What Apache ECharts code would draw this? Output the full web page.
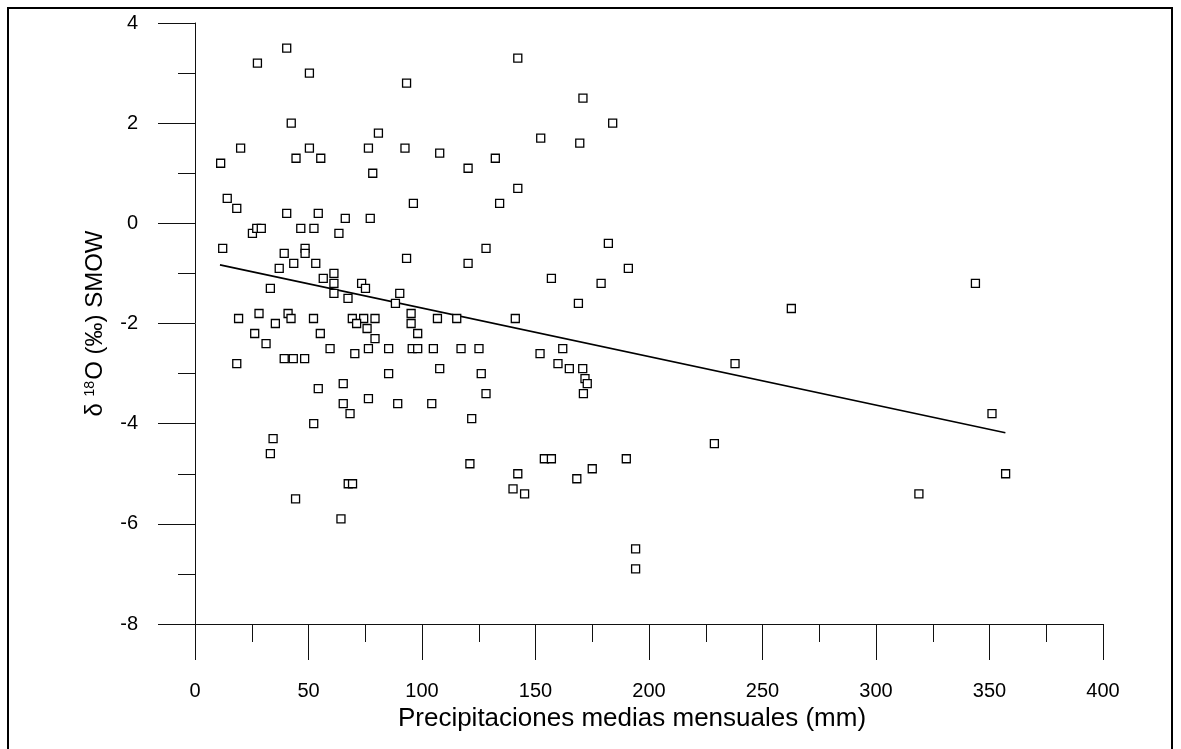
<!DOCTYPE html>
<html>
<head>
<meta charset="utf-8">
<script src="https://cdn.jsdelivr.net/npm/echarts@6/dist/echarts.min.js"></script>
<style>
  html, body { margin: 0; padding: 0; background: #fff; }
</style>
</head>
<body>
<div id="myChart" style="width: 1181px; height: 749px"></div>
<script>
// precipitación media mensual (mm) de cada estación/mes
const precip = [
  40.4, 27.5, 50.4, 93.2, 42.4, 80.8, 20.1, 50.4, 76.4, 92.5,
  107.8, 44.5, 55.4, 11.3, 78.3, 14.2, 96.2, 18.4, 40.4, 54.3,
  66.2, 77.2, 25.3, 27.2, 29.2, 46.6, 52.4, 63.4, 12.2, 48.5,
  48.5, 39.3, 93.2, 43.5, 53.2, 37.1, 61.2, 56.5, 61.2, 73.4,
  75.1, 33.2, 61.2, 90.2, 67.4, 88.3, 95.2, 95.2, 28.2, 41.0,
  42.3, 19.2, 52.2, 69.3, 74.3, 79.3, 106.8, 35.4, 71.2, 75.8,
  26.3, 55.2, 98.1, 79.3, 31.3, 59.5, 76.4, 85.3, 95.7, 98.1,
  105.0, 70.4, 39.3, 43.3, 48.3, 18.4, 107.8, 85.3, 65.3, 54.3,
  76.4, 65.3, 89.3, 104.3, 68.3, 52.3, 34.4, 33.2,
  44.3, 67.5, 69.4, 64.3,
  142.2, 170.9, 184.0, 152.3, 169.5, 132.3, 120.3, 142.2, 134.2, 182.1, 128.2,
  120.3, 190.9, 157.0, 178.9, 168.9, 115.3, 141.1, 117.2, 125.1, 152.0,
  162.0, 159.9, 164.9, 170.8, 126.1, 171.8, 172.8, 128.2, 171.1, 121.9,
  121.1, 153.9, 157.0, 190.0, 175.0, 142.2, 168.2,
  140.1, 145.2, 194.1, 194.1,
  343.8, 262.7, 237.9, 228.8, 351.1, 357.1, 318.9
];
// δ18O (‰ SMOW)
const d18O = [
  3.5, 3.2, 3.0, 2.8, 2.0, 1.8, 1.5, 1.5, 1.5, 1.5,
  1.4, 1.3, 1.3, 1.2, 1.0, 0.5, 0.4, 0.3, 0.2, 0.2,
  0.1, 0.1, -0.2, -0.1, -0.1, -0.1, -0.1, -0.2, -0.5, -0.5,
  -0.6, -0.6, -0.7, -0.8, -0.8, -0.9, -1.0, -1.1, -1.2, -1.2,
  -1.3, -1.3, -1.4, -1.4, -1.5, -1.6, -1.8, -2.0, -1.8, -1.8,
  -1.9, -1.9, -1.9, -1.9, -1.9, -1.9, -1.9, -2.0, -2.0, -2.1,
  -2.2, -2.2, -2.2, -2.3, -2.4, -2.5, -2.5, -2.5, -2.5, -2.5,
  -2.5, -2.6, -2.7, -2.7, -2.7, -2.8, -2.9, -3.0, -3.2, -3.3,
  -3.5, -3.6, -3.6, -3.6, -3.8, -4.0, -4.3, -4.6,
  -5.5, -5.2, -5.2, -5.9,
  3.3, 2.5, 2.0, 1.7, 1.6, 1.3, 1.1, 0.7, 0.4, -0.4, -0.5,
  -0.8, -0.9, -1.1, -1.2, -1.6, -1.9, -1.9, -2.5, -2.5, -2.6,
  -2.5, -2.8, -2.9, -2.9, -3.0, -3.1, -3.2, -3.4, -3.4, -3.9,
  -4.8, -4.7, -4.7, -4.7, -4.9, -5.0, -5.1,
  -5.3, -5.4, -6.5, -6.9,
  -1.2, -1.7, -2.8, -4.4, -3.8, -5.0, -5.4
];
// recta de regresión (extremos)
const fitX = [11, 357];
const fitY = [-0.83, -4.18];

const xTicks = { min: 0, max: 400, interval: 50 };
const yTicks = { min: -8, max: 4, interval: 2 };

let myChart = echarts.init(document.getElementById("myChart"));
const font = "Arial, 'Liberation Sans', Helvetica, sans-serif";
const axisColor = "#111";

myChart.setOption({
  animation: false,
  backgroundColor: "#fff",
  textStyle: { fontFamily: font, color: "#000" },
  graphic: [
    {
      type: "rect",
      shape: { x: 8, y: 8, width: 1164, height: 760 },
      style: { fill: null, stroke: "#000", lineWidth: 2 },
      silent: true
    }
  ],
  grid: { left: 195, right: 78, top: 23, bottom: 125 },
  xAxis: {
    type: "value",
    min: xTicks.min,
    max: xTicks.max,
    interval: xTicks.interval,
    name: "Precipitaciones medias mensuales (mm)",
    nameLocation: "middle",
    nameGap: 81,
    nameTextStyle: { fontSize: 26, color: "#000", fontFamily: font, padding: [0, 34, 0, 0] },
    axisLine: { onZero: false, lineStyle: { color: axisColor, width: 1 } },
    axisTick: { length: 36, lineStyle: { color: axisColor, width: 1 } },
    minorTick: { show: true, splitNumber: 2, length: 18, lineStyle: { color: axisColor, width: 1 } },
    axisLabel: { fontSize: 20, color: "#000", margin: 57, fontFamily: font },
    splitLine: { show: false }
  },
  yAxis: {
    type: "value",
    min: yTicks.min,
    max: yTicks.max,
    interval: yTicks.interval,
    name: "{n|δ }{s|18}{n|O (‰) SMOW}",
    nameLocation: "middle",
    nameGap: 88,
    nameRotate: 90,
    nameTextStyle: {
      fontFamily: font,
      color: "#000",
      rich: {
        n: { fontSize: 24, fontFamily: font, color: "#000" },
        s: { fontSize: 14, fontFamily: font, color: "#000", verticalAlign: "top", padding: [0, 1, 10, 0] }
      }
    },
    axisLine: { onZero: false, lineStyle: { color: axisColor, width: 1 } },
    axisTick: { length: 37, lineStyle: { color: axisColor, width: 1 } },
    minorTick: { show: true, splitNumber: 2, length: 17, lineStyle: { color: axisColor, width: 1 } },
    axisLabel: { fontSize: 20, color: "#000", margin: 57, fontFamily: font },
    splitLine: { show: false }
  },
  series: [
    {
      name: "ajuste",
      type: "line",
      data: fitX.map((x, i) => [x, fitY[i]]),
      symbol: "none",
      lineStyle: { color: "#000", width: 1.6 },
      z: 2
    },
    {
      name: "δ18O",
      type: "scatter",
      data: precip.map((x, i) => [x, d18O[i]]),
      symbol: "rect",
      symbolSize: 8,
      itemStyle: { color: "#fff", borderColor: "#000", borderWidth: 1.3, opacity: 1 },
      z: 3
    }
  ]
});
</script>
</body>
</html>
